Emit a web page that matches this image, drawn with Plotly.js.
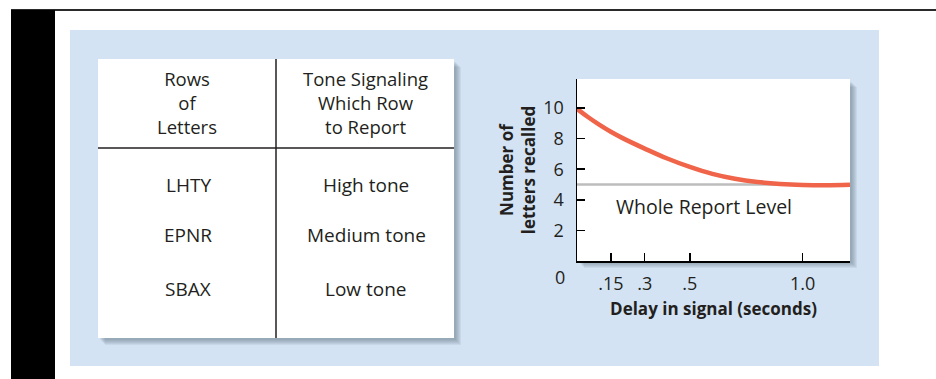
<!DOCTYPE html>
<html>
<head>
<meta charset="utf-8">
<script src="https://cdn.plot.ly/plotly-3.0.1.min.js"></script>
<style>
html,body{margin:0;padding:0;background:#fff;}
#chart{width:936px;height:379px;}
</style>
</head>
<body>
<div id="chart"></div>
<script>
// ---- data ----
const delaySeconds = [0, 0.05, 0.1, 0.15, 0.2, 0.3, 0.4, 0.5, 0.6, 0.7, 0.8, 0.9, 1.0, 1.1, 1.21];
const lettersRecalled = [9.95, 9.4, 8.9, 8.45, 8.05, 7.35, 6.7, 6.15, 5.7, 5.38, 5.17, 5.04, 4.97, 4.95, 4.98];
const wholeReportLevel = 5;
const xTickVals = [0.15, 0.3, 0.5, 1.0];
const xTickText = ['.15', '.3', '.5', '1.0'];
const yTickVals = [2, 4, 6, 8, 10];
const yTickText = ['2', '4', '6', '8', '10'];
const headerRowsOfLetters = ['Rows', 'of', 'Letters'];
const headerToneSignal = ['Tone Signaling', 'Which Row', 'to Report'];
const letterRows = ['LHTY', 'EPNR', 'SBAX'];
const toneSignals = ['High tone', 'Medium tone', 'Low tone'];

// ---- layout geometry (pixels) ----
const W = 936, H = 379;
const L = 577, R = 850, T = 79, B = 261;
const px = v => (v - L) / (R - L);
const py = v => (B - v) / (B - T);
const FONT = '"Open Sans", "Noto Sans", sans-serif';
const INK = '#231f20';

function rect(x0, y0, x1, y1, color, opacity) {
  return {type: 'rect', xref: 'paper', yref: 'paper', layer: 'below',
    x0: px(x0), x1: px(x1), y0: py(y1), y1: py(y0),
    fillcolor: color, opacity: opacity === undefined ? 1 : opacity, line: {width: 0}};
}
function line(x0, y0, x1, y1, color, width) {
  return {type: 'line', xref: 'paper', yref: 'paper', layer: 'below',
    x0: px(x0), x1: px(x1), y0: py(y0), y1: py(y1),
    line: {color: color, width: width}};
}
function shadow(x0, y0, x1, y1) {
  const out = [];
  for (let i = 1; i <= 6; i++) {
    out.push(rect(x0 + i + 1, y0 + i + 2, x1 + i + 1, y1 + i + 1, '#4d5f73', 0.09));
  }
  return out;
}

const shapes = [].concat(
  [line(11, 10, 936, 10, '#2a2a2a', 2),
   rect(11, 10, 55, 379, '#000000'),
   rect(70, 30, 879, 366, '#d3e3f3')],
  shadow(98, 59, 454, 338),
  [rect(98, 59, 454, 338, '#ffffff')],
  shadow(577, 79, 850, 261),
  [rect(577, 79, 850, 261, '#ffffff'),
   line(276, 59, 276, 338, INK, 1.5),
   line(98, 148, 454, 148, INK, 1.5)]
);

const annotations = [];
function textAt(t, x, y, size) {
  annotations.push({
    xref: 'paper', yref: 'paper', x: px(x), y: py(y), text: t,
    showarrow: false, xanchor: 'center', yanchor: 'middle',
    font: {family: FONT, size: size, color: INK}
  });
}
textAt(headerRowsOfLetters.join('<br>'), 187, 102.5, 18.5);
textAt(headerToneSignal.join('<br>'), 365, 102.5, 18.5);
const rowY = [185, 235, 289];
letterRows.forEach((t, i) => textAt(t, 188, rowY[i], 19));
toneSignals.forEach((t, i) => textAt(t, 366, rowY[i], 19));

annotations.push({
  xref: 'paper', yref: 'y', x: px(704), y: wholeReportLevel, yshift: -22,
  text: 'Whole Report Level', showarrow: false, xanchor: 'center', yanchor: 'middle',
  font: {family: FONT, size: 19.5, color: INK}
});
annotations.push({
  xref: 'paper', yref: 'y', x: px(560), y: 0, yshift: -15.5,
  text: '0', showarrow: false, xanchor: 'center', yanchor: 'middle',
  font: {family: FONT, size: 18, color: INK}
});

const traces = [
  {x: [0, 1.21], y: [wholeReportLevel, wholeReportLevel], mode: 'lines',
   line: {color: '#bdbdbd', width: 2.5}, hoverinfo: 'skip'},
  {x: delaySeconds, y: lettersRecalled, mode: 'lines',
   line: {color: '#f0644a', width: 4.5, shape: 'spline', smoothing: 1.2}, cliponaxis: false}
];

const layout = {
  width: W, height: H,
  margin: {l: L, r: W - R, t: T, b: H - B, pad: 0},
  paper_bgcolor: '#ffffff', plot_bgcolor: 'rgba(0,0,0,0)',
  showlegend: false,
  font: {family: FONT, color: INK},
  xaxis: {
    range: [0, 1.21], showgrid: false, zeroline: false,
    showline: true, linecolor: '#000', linewidth: 1.5, mirror: false,
    ticks: 'inside', ticklen: 8, tickwidth: 1.5, tickcolor: '#000',
    tickvals: xTickVals, ticktext: xTickText, ticklabelstandoff: 6,
    tickfont: {family: FONT, size: 18, color: INK},
    title: {text: 'Delay in signal (seconds)', standoff: 9,
      font: {family: FONT, size: 17, color: INK, weight: 'bold'}}
  },
  yaxis: {
    range: [0, 11.9], showgrid: false, zeroline: false,
    showline: true, linecolor: '#000', linewidth: 1.5, mirror: false,
    ticks: 'inside', ticklen: 8, tickwidth: 1.5, tickcolor: '#000',
    tickvals: yTickVals, ticktext: yTickText, ticklabelstandoff: 8,
    tickfont: {family: FONT, size: 18, color: INK},
    title: {text: 'Number of<br>letters recalled', standoff: 3,
      font: {family: FONT, size: 17, color: INK, weight: 'bold'}}
  },
  shapes: shapes,
  annotations: annotations
};

Plotly.newPlot('chart', traces, layout, {displayModeBar: false, staticPlot: true});
</script>
</body>
</html>
